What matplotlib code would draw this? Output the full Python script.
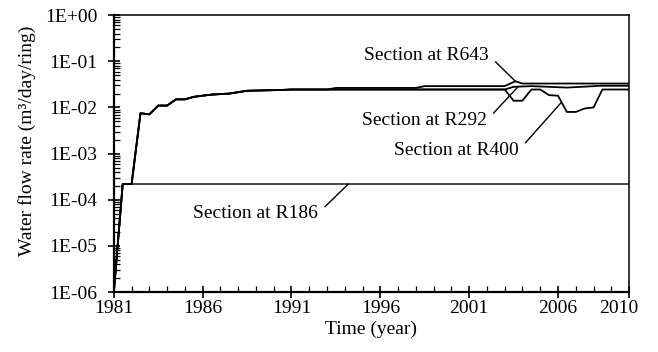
import matplotlib
matplotlib.use('Agg')
from matplotlib import pyplot as plt
from matplotlib.ticker import LogLocator, FuncFormatter, NullFormatter
from matplotlib.transforms import ScaledTranslation
import numpy as np

plt.rcParams['font.family'] = ['Liberation Serif', 'DejaVu Serif']

# shared early history (all sections follow the same rise)
t_base = [1981.0, 1981.5, 1982.0, 1982.5, 1983.0, 1983.5, 1984.0, 1984.5, 1985.0,
          1985.5, 1986.0, 1986.5, 1987.5, 1988.5, 1990.5, 1991.0]
q_base = [1e-6, 2.2e-4, 2.2e-4, 7.5e-3, 7.1e-3, 1.1e-2, 1.1e-2, 1.5e-2, 1.5e-2,
          1.7e-2, 1.8e-2, 1.9e-2, 2.0e-2, 2.3e-2, 2.4e-2, 2.45e-2]

# section R643
t_r643 = t_base + [1993.0, 1993.5, 1998.0, 1998.5, 2003.0, 2003.6, 2004.0, 2010.0]
q_r643 = q_base + [2.45e-2, 2.65e-2, 2.65e-2, 2.9e-2, 2.9e-2, 3.7e-2, 3.3e-2, 3.3e-2]

# section R292
t_r292 = t_base + [2003.0, 2003.5, 2004.5, 2005.5, 2006.5, 2007.3, 2008.4, 2010.0]
q_r292 = q_base + [2.45e-2, 2.8e-2, 2.9e-2, 2.8e-2, 2.7e-2, 2.8e-2, 2.95e-2, 2.95e-2]

# section R400
t_r400 = t_base + [2003.0, 2003.5, 2004.0, 2004.5, 2005.0, 2005.5, 2006.0, 2006.5,
                   2007.0, 2007.5, 2008.0, 2008.5, 2010.0]
q_r400 = q_base + [2.45e-2, 1.4e-2, 1.4e-2, 2.45e-2, 2.45e-2, 1.85e-2, 1.8e-2, 8e-3,
                   8e-3, 9.5e-3, 1.0e-2, 2.45e-2, 2.45e-2]

# section R186
t_r186 = [1981.0, 1981.5, 2010.0]
q_r186 = [1e-6, 2.2e-4, 2.2e-4]

xticks = [1981, 1986, 1991, 1996, 2001, 2006, 2010]

fig = plt.figure(figsize=(6.58, 3.52), dpi=100)
ax = fig.add_axes([0.173, 0.170, 0.783, 0.787])

ax.plot(t_r186, q_r186, color='black', lw=1.0)
ax.plot(t_r400, q_r400, color='black', lw=1.3)
ax.plot(t_r292, q_r292, color='black', lw=1.3)
ax.plot(t_r643, q_r643, color='black', lw=1.3)

ax.set_yscale('log')
ax.set_ylim(1e-6, 1)
ax.set_xlim(1981, 2010)

ax.set_xticks(xticks)
ax.set_xticks(range(1981, 2011), minor=True)
ax.yaxis.set_major_locator(LogLocator(base=10, numticks=10))
ax.yaxis.set_minor_locator(LogLocator(base=10, subs=np.arange(2, 10), numticks=20))
ax.yaxis.set_minor_formatter(NullFormatter())
ax.yaxis.set_major_formatter(FuncFormatter(
    lambda v, p: '1E+00' if v >= 1 else '1E-%02d' % round(-np.log10(v))))

ax.tick_params(which='major', direction='inout', length=9, width=1.2,
               labelsize=14, colors='black', pad=1)
ax.tick_params(which='minor', direction='in', length=4, width=0.9)
ax.tick_params(axis='y', which='major', pad=7.5)

# last year label sits just inside the right edge
last = ax.get_xticklabels()[-1]
last.set_transform(last.get_transform() + ScaledTranslation(-10 / 100, 0, fig.dpi_scale_trans))

for side in ['left', 'bottom']:
    ax.spines[side].set_linewidth(1.6)
for side in ['top', 'right']:
    ax.spines[side].set_linewidth(1.1)

ax.set_xlabel('Time (year)', fontsize=14, labelpad=3)
ax.set_ylabel('Water flow rate (m³/day/ring)', fontsize=14)
ax.yaxis.set_label_coords(-0.151, 0.545)

# labels with leader lines
leader = dict(arrowstyle='-', color='black', lw=1.0, relpos=(1, 0.5),
              shrinkA=4, shrinkB=0)
ax.annotate('Section at R643', xy=(2003.6, 3.7e-2), xytext=(2002.1, 0.136),
            ha='right', va='center', fontsize=14, arrowprops=leader)
ax.annotate('Section at R292', xy=(2003.75, 2.8e-2), xytext=(2002.0, 5.3e-3),
            ha='right', va='center', fontsize=14, arrowprops=leader)
ax.annotate('Section at R400', xy=(2006.2, 1.3e-2), xytext=(2003.8, 1.19e-3),
            ha='right', va='center', fontsize=14, arrowprops=leader)
ax.annotate('Section at R186', xy=(1994.2, 2.2e-4), xytext=(1992.5, 5.1e-5),
            ha='right', va='center', fontsize=14, arrowprops=leader)

fig.savefig('out.png', dpi=100)
